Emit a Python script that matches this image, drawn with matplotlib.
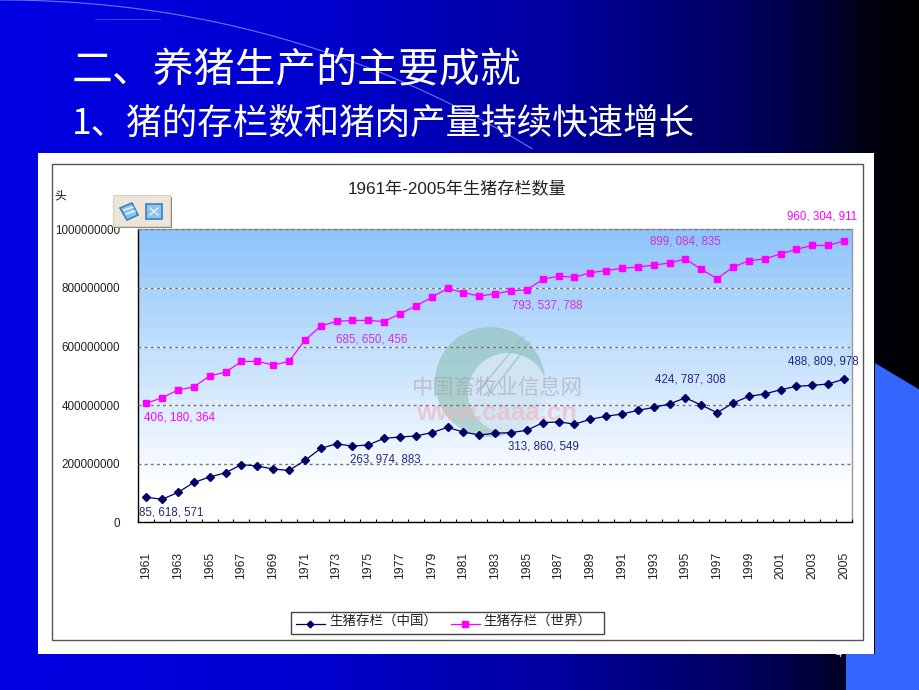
import numpy as np
import matplotlib
matplotlib.use("Agg")
import matplotlib.pyplot as plt
from matplotlib.patches import Rectangle, Polygon, Circle
from matplotlib.ticker import FixedLocator, NullFormatter

plt.rcParams['font.family'] = ['Liberation Sans', 'Noto Sans CJK SC', 'DejaVu Sans']

years = list(range(1961, 2006))
china = [85.6, 78.5, 102, 136, 154.6, 169, 197, 192, 182, 177,
         211, 252, 268, 260, 264, 286.6, 291, 294.6, 306, 324,
         308, 298, 304, 306, 313.9, 340, 343, 335, 351.5, 362,
         369.6, 382, 392, 404, 424.8, 400, 374, 407, 430, 438,
         452.6, 464, 467.5, 472, 488.8]
world = [406.2, 425, 451.5, 461.8, 500, 512, 549, 549, 537, 549,
         621, 670, 685.7, 689, 689, 685, 712, 738, 768, 798,
         784, 772, 780, 790, 793.5, 829, 840.6, 836, 852, 859,
         867, 871, 878, 885, 899.1, 863, 832, 871, 893, 899,
         916, 932, 945, 945, 960.3]
china_name = "生猪存栏（中国）"
world_name = "生猪存栏（世界）"
chart_title = "1961年-2005年生猪存栏数量"
unit_label = "头"
y_ticks = [0, 200, 400, 600, 800, 1000]
y_tick_labels = ["0", "200000000", "400000000", "600000000", "800000000", "1000000000"]
x_tick_years = list(range(1961, 2006, 2))
china_notes = [(1961, "85, 618, 571"), (1975, "263, 974, 883"), (1985, "313, 860, 549"),
               (1995, "424, 787, 308"), (2005, "488, 809, 978")]
world_notes = [(1961, "406, 180, 364"), (1973, "685, 650, 456"), (1985, "793, 537, 788"),
               (1995, "899, 084, 835"), (2005, "960, 304, 911")]

NAVY = "#000066"
PINK = "#ff00ff"
W, H = 920, 690
CJK = ['Noto Sans CJK SC', 'DejaVu Sans']

fig = plt.figure(figsize=(9.2, 6.9), dpi=100)

# slide background, drawn in pixel coordinates
bg = fig.add_axes([0, 0, 1, 1])
stops = np.array([0, 0.35, 0.62, 0.85, 0.96, 1.0])
blues = np.array([228, 205, 155, 80, 10, 0]) / 255
rgb = np.zeros((1, 256, 3))
rgb[0, :, 2] = np.interp(np.linspace(0, 1, 256), stops, blues)
bg.imshow(rgb, extent=[0, W, H, 0], aspect="auto", zorder=0)
bg.set_xlim(0, W)
bg.set_ylim(H, 0)
bg.axis("off")
bg.add_patch(Polygon([(875, 363), (920, 390), (920, 690), (846, 690), (846, 654), (875, 654)],
                     closed=True, fc="#3366ff", ec="none", zorder=1))
swoosh_x = np.linspace(0, 532, 80)
bg.plot(swoosh_x, 4.4e-4 * swoosh_x ** 2 + 1.6e-7 * swoosh_x ** 3, color="#5f78ff", lw=0.8, zorder=1)
bg.plot([95, 160], [19, 19], color="#4a5cf0", lw=0.5, zorder=1)
bg.text(72, 71, "二、养猪生产的主要成就", color="white", fontsize=29.4, va="center", ha="left",
        family=CJK, fontweight="light", zorder=2)
bg.text(72, 124, "1、猪的存栏数和猪肉产量持续快速增长", color="white", fontsize=25.6, va="center", ha="left",
        family=CJK, fontweight="light", zorder=2)
bg.text(839, 654, "4", color="white", fontsize=8, ha="center", va="center", zorder=2)
bg.add_patch(Rectangle((38, 153), 836, 501, fc="white", ec="none", zorder=3))
bg.add_patch(Rectangle((52, 164), 811, 476, fc="white", ec="#555555", lw=1, zorder=4))

# plot area
L, R, T, B = 138.3, 852, 229.3, 522.3
ax = fig.add_axes([L / W, 1 - B / H, (R - L) / W, (B - T) / H], zorder=6)

col_top = np.array([0x8f, 0xc5, 0xfa]) / 255
shade = np.ones((24, 1, 3))
for i, t in enumerate(np.linspace(0, 1, 24)):
    f = min(t / 0.9, 1)
    shade[i, 0] = col_top * (1 - f) + f
ax.imshow(shade, extent=[1960.5, 2005.5, 0, 1000], aspect="auto", zorder=0, interpolation="nearest")
ax.set_xlim(1960.5, 2005.5)
ax.set_ylim(0, 1000)

for s in ["top", "right"]:
    ax.spines[s].set_color("#999999")
    ax.spines[s].set_linewidth(1)
for s in ["left", "bottom"]:
    ax.spines[s].set_color("black")
    ax.spines[s].set_linewidth(1)

ax.set_yticks(y_ticks)
ax.set_yticklabels(y_tick_labels, fontsize=8.4, color="#222222")
ax.tick_params(axis="y", length=0, pad=13)
ax.set_xticks(x_tick_years)
ax.set_xticklabels(x_tick_years, rotation=90, fontsize=8.8, color="#222222")
ax.tick_params(axis="x", which="major", length=0, pad=21)
ax.xaxis.set_minor_locator(FixedLocator(np.arange(1960.5, 2005.6, 1)))
ax.xaxis.set_minor_formatter(NullFormatter())
ax.tick_params(axis="x", which="minor", direction="in", length=2.5, width=0.8, color="black")
ax.hlines(y_ticks[1:-1], 1960.5, 2005.5, color="white", lw=1, alpha=0.8, zorder=1)
ax.grid(axis="y", color="#777777", ls=(0, (2.2, 2.2)), lw=1, zorder=1.5)
ax.set_axisbelow(False)

line_w, = ax.plot(years, world, color=PINK, lw=0.9, marker="s", ms=4.8, mec=PINK, mfc=PINK,
                  zorder=4, clip_on=False)
line_c, = ax.plot(years, china, color=NAVY, lw=0.9, marker="D", ms=3.6, mec=NAVY, mfc=NAVY,
                  zorder=4, clip_on=False)

# faded watermark, behind the lines
wm = ax.inset_axes([0, 0, 1, 1], zorder=2)
wm.set_xlim(L, R)
wm.set_ylim(B, T)
wm.axis("off")
wm.add_patch(Circle((490, 382), 55, fc="#8cc0b4", ec="none", alpha=0.6))
wm.add_patch(Circle((508, 393), 40, fc="#d8e8f8", ec="none", alpha=0.88))
wm.plot([477, 523], [393, 337], color="#8cc0b4", lw=1.2, alpha=0.6)
wm.plot([488, 530], [396, 342], color="#8cc0b4", lw=1.2, alpha=0.6)
wm.text(497, 388, "中国畜牧业信息网", fontsize=15.4, color="#a8a0a8", alpha=0.55, ha="center",
        va="center", family=CJK, fontstyle="italic")
wm.text(497, 413, "www.caaa.cn", fontsize=18.5, color="#f0b8c4", alpha=0.7, ha="center",
        va="center", fontweight="bold")

# value labels placed next to their points
china_offsets = {1961: (25, -15), 1975: (17, -15), 1985: (17, -16), 1995: (5, 18), 2005: (-21, 18)}
world_offsets = {1961: (33, -14), 1973: (35, -18), 1985: (20, -16), 1995: (0, 17), 2005: (-22, 24)}
for yr, txt in china_notes:
    ax.annotate(txt, (yr, china[years.index(yr)]), xytext=china_offsets[yr], textcoords="offset pixels",
                color="#25258a", fontsize=8.3, ha="center", va="center", zorder=7, annotation_clip=False)
for yr, txt in world_notes:
    ax.annotate(txt, (yr, world[years.index(yr)]), xytext=world_offsets[yr], textcoords="offset pixels",
                color=PINK if yr in (1961, 2005) else "#d030e0", fontsize=8.3, ha="center", va="center",
                zorder=7, annotation_clip=False)

# chart texts, legend and toolbar in pixel coordinates
top = fig.add_axes([0, 0, 1, 1], zorder=10)
top.set_xlim(0, W)
top.set_ylim(H, 0)
top.axis("off")
top.patch.set_visible(False)
top.text(457, 189, chart_title, fontsize=12.3, ha="center", va="center", color="#222222")
top.text(60.5, 196, unit_label, fontsize=8.5, ha="center", va="center", color="#111111")

top.add_patch(Rectangle((115, 197), 57, 31, fc="#8a8a80", ec="none"))
top.add_patch(Rectangle((113, 195), 57, 31, fc="#ede5d8", ec="#d8d0c0", lw=0.8))
top.add_patch(Rectangle((146, 204), 16, 15, fc="#8cc4f0", ec="#3a80c0", lw=1.2))
top.add_patch(Polygon([(120, 208), (132, 203), (138, 215), (127, 220)], closed=True,
                      fc="#8cc4f0", ec="#3a80c0", lw=1.2))
top.plot([124, 133], [210, 207], color="white", lw=0.9)
top.plot([126, 135], [214, 211], color="white", lw=0.9)
top.plot([150, 158], [208, 215], color="white", lw=0.8)
top.plot([150, 158], [215, 208], color="white", lw=0.8)

top.add_patch(Rectangle((291, 612), 313, 22, fc="white", ec="#444444", lw=1))
top.plot([296, 325], [624, 624], color=NAVY, lw=0.9)
top.plot([310.5], [624], marker="D", ms=3.4, color=NAVY)
top.text(329, 622.5, china_name, fontsize=9.7, ha="left", va="center", color="#222222")
top.plot([451, 480], [624, 624], color=PINK, lw=0.9)
top.plot([465.5], [624], marker="s", ms=4.2, color=PINK)
top.text(483, 622.5, world_name, fontsize=9.7, ha="left", va="center", color="#222222")

fig.savefig("out.png", dpi=100)
